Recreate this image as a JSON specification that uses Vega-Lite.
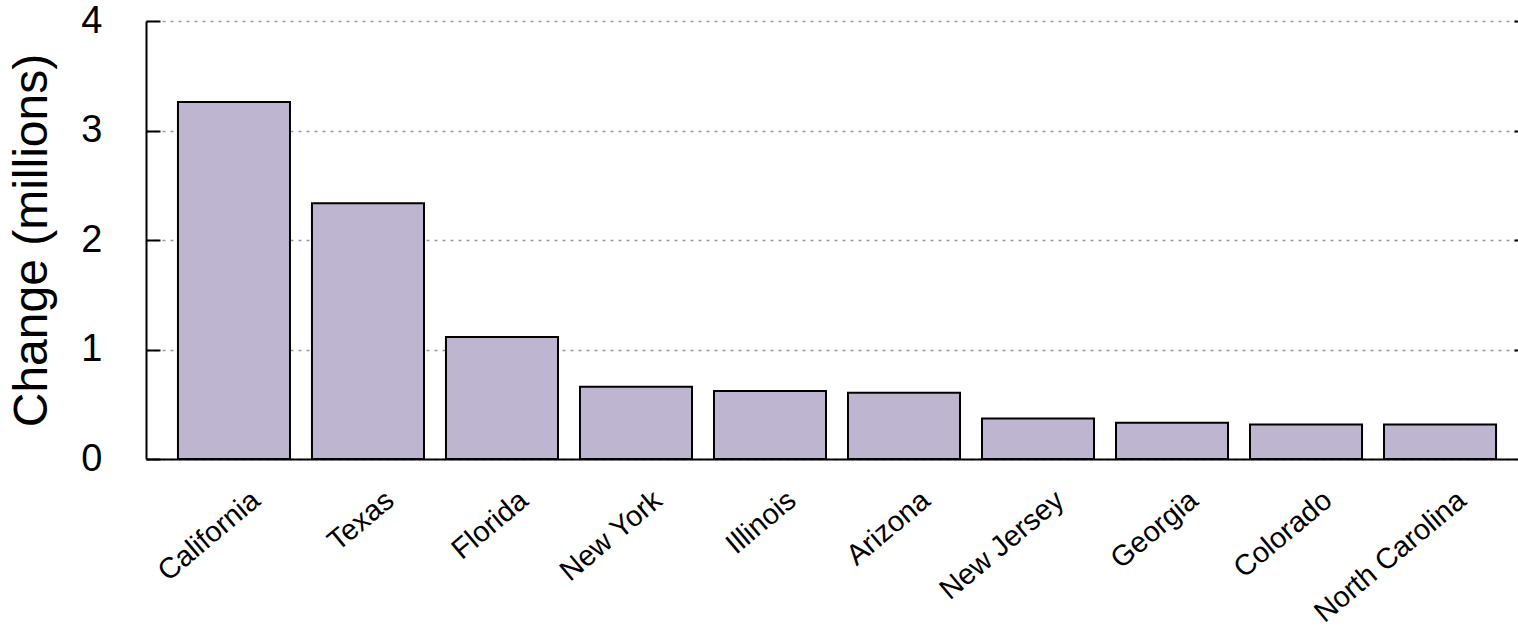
{
  "$schema": "https://vega.github.io/schema/vega-lite/v6.json",
  "width": 1382,
  "height": 438,
  "autosize": {"type": "none"},
  "padding": {"left": 146, "top": 21, "right": 0, "bottom": 169},
  "background": "white",
  "config": {"view": {"stroke": null}, "font": "Liberation Sans"},
  "data": {
    "values": [
      {"state": "California", "change": 3.26},
      {"state": "Texas", "change": 2.336},
      {"state": "Florida", "change": 1.115},
      {"state": "New York", "change": 0.659},
      {"state": "Illinois", "change": 0.622},
      {"state": "Arizona", "change": 0.604},
      {"state": "New Jersey", "change": 0.371},
      {"state": "Georgia", "change": 0.331},
      {"state": "Colorado", "change": 0.314},
      {"state": "North Carolina", "change": 0.314}
    ]
  },
  "encoding": {
    "x": {
      "field": "state",
      "type": "nominal",
      "sort": null,
      "scale": {"paddingInner": 0.164, "paddingOuter": 0.2385},
      "axis": {
        "title": null,
        "labelAngle": -40,
        "labelAlign": "right",
        "labelBaseline": "middle",
        "labelFontSize": 29,
        "labelColor": "black",
        "labelOffset": 22,
        "labelPadding": 37,
        "labelLimit": 500,
        "labelOverlap": false,
        "ticks": false,
        "domainColor": "black",
        "domainWidth": 2,
        "grid": false
      }
    }
  },
  "layer": [
    {
      "mark": {"type": "bar", "fill": "#BEB5D1", "stroke": "black", "strokeWidth": 2},
      "encoding": {
        "y": {
          "field": "change",
          "type": "quantitative",
          "scale": {"domain": [0, 4], "nice": false},
          "axis": {
            "title": "Change (millions)",
            "titleFontSize": 48,
            "titleFontWeight": "normal",
            "titleColor": "black",
            "titlePadding": 24,
            "labelFontSize": 38,
            "labelColor": "black",
            "labelPadding": 58,
            "tickSize": -14,
            "tickWidth": 2,
            "tickColor": "black",
            "domainColor": "black",
            "domainWidth": 2,
            "grid": true,
            "gridColor": "#999999",
            "gridDash": [3, 5],
            "gridWidth": 1.6,
            "values": [0, 1, 2, 3, 4]
          }
        }
      }
    },
    {
      "mark": {"type": "bar", "opacity": 0},
      "encoding": {
        "y": {
          "field": "change",
          "type": "quantitative",
          "axis": {
            "orient": "right",
            "title": null,
            "labels": false,
            "domain": false,
            "grid": false,
            "tickSize": -14,
            "tickWidth": 2,
            "tickColor": "black",
            "values": [1, 2, 3, 4]
          }
        }
      }
    }
  ],
  "resolve": {"axis": {"y": "independent"}}
}
